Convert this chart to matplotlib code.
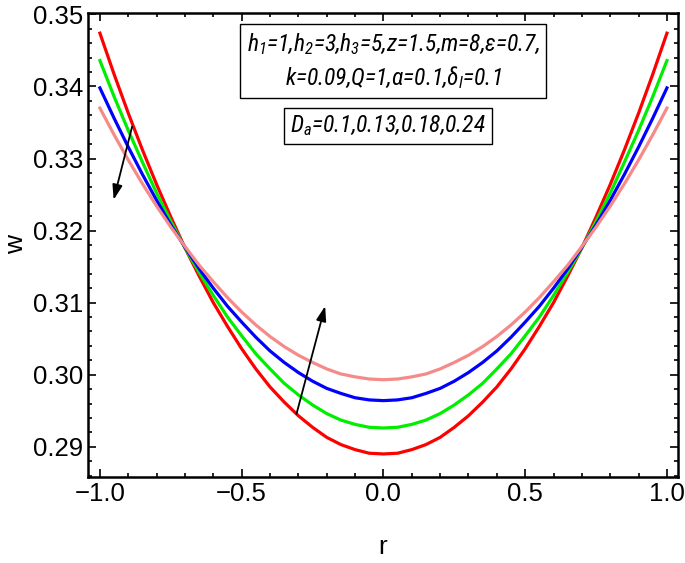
import matplotlib.pyplot as plt
from matplotlib.ticker import MultipleLocator

# velocity profiles w(r) for Da = 0.1, 0.13, 0.18, 0.24, read on r = 0 .. 1 (step 0.05);
# the profiles are symmetric about r = 0
r_half = [0.0, 0.05, 0.1, 0.15, 0.2, 0.25, 0.3, 0.35, 0.4, 0.45, 0.5,
          0.55, 0.6, 0.65, 0.7, 0.75, 0.8, 0.85, 0.9, 0.95, 1.0]
w_red_half = [0.2890, 0.2891, 0.2896, 0.2903, 0.2913, 0.2927, 0.2943, 0.2962, 0.2983, 0.3008, 0.3036,
              0.3067, 0.3100, 0.3137, 0.3176, 0.3219, 0.3264, 0.3312, 0.3363, 0.3417, 0.3474]
w_green_half = [0.2926, 0.2927, 0.2931, 0.2937, 0.2946, 0.2958, 0.2972, 0.2988, 0.3008, 0.3029, 0.3054,
                0.3080, 0.3110, 0.3142, 0.3176, 0.3213, 0.3252, 0.3295, 0.3339, 0.3386, 0.3436]
w_blue_half = [0.2964, 0.2965, 0.2968, 0.2974, 0.2981, 0.2991, 0.3003, 0.3017, 0.3033, 0.3052, 0.3073,
               0.3095, 0.3120, 0.3147, 0.3177, 0.3208, 0.3242, 0.3278, 0.3316, 0.3356, 0.3398]
w_pink_half = [0.2993, 0.2994, 0.2997, 0.3001, 0.3008, 0.3017, 0.3027, 0.3039, 0.3053, 0.3069, 0.3087,
               0.3107, 0.3129, 0.3152, 0.3178, 0.3205, 0.3234, 0.3265, 0.3298, 0.3333, 0.3370]


def mirror(vals):
    return vals[:0:-1] + vals


r = [-v for v in r_half[:0:-1]] + r_half

plt.rcParams['font.family'] = ['Liberation Sans', 'DejaVu Sans']
plt.rcParams['mathtext.fontset'] = 'custom'
plt.rcParams['mathtext.it'] = 'Roboto Condensed:italic'
plt.rcParams['mathtext.rm'] = 'Roboto Condensed:italic'

fig = plt.figure(figsize=(6.85, 5.63), dpi=100)
ax = fig.add_axes([88 / 685, 1 - 477 / 563, 590 / 685, 464 / 563])

ax.plot(r, mirror(w_red_half), color='#ff0000', lw=2.3)
ax.plot(r, mirror(w_green_half), color='#00ee00', lw=2.3)
ax.plot(r, mirror(w_blue_half), color='#0000ff', lw=2.3)
ax.plot(r, mirror(w_pink_half), color='#f58a8a', lw=2.3)

ax.set_xlim(-1.042, 1.039)
ax.set_ylim(0.2858, 0.3502)
ax.xaxis.set_major_locator(MultipleLocator(0.5))
ax.xaxis.set_minor_locator(MultipleLocator(0.1))
ax.yaxis.set_major_locator(MultipleLocator(0.01))
ax.yaxis.set_minor_locator(MultipleLocator(0.002))
ax.xaxis.set_major_formatter(lambda v, p: f"{v:.1f}".replace('-', '\u2212'))
ax.yaxis.set_major_formatter(lambda v, p: f"{v:.2f}")
ax.tick_params(which='both', direction='in', top=True, right=True, labelsize=18.5, width=1.2)
ax.tick_params(which='major', length=6)
ax.tick_params(which='minor', length=3)
for s in ax.spines.values():
    s.set_linewidth(1.8)

ax.set_xlabel('r', fontsize=19, labelpad=21)
ax.set_ylabel('w', fontsize=19, va='center')
ax.yaxis.set_label_coords(-0.122, 0.5)

# arrows showing increase of Da
arr = dict(arrowstyle='-|>,head_length=0.9,head_width=0.3', color='black', lw=1.3)
ax.annotate('', xy=(-0.954, 0.3239), xytext=(-0.884, 0.3348), arrowprops=arr)
ax.annotate('', xy=(-0.203, 0.3099), xytext=(-0.309, 0.2942), arrowprops=arr)

tf = dict(family=['Roboto Condensed', 'Liberation Sans', 'DejaVu Sans'], style='italic', fontsize=17)
fig.text(393 / 685, 1 - 61 / 563,
         '$h_1$=1,$h_2$=3,$h_3$=5,z=1.5,m=8,$\\epsilon$=0.7,\nk=0.09,Q=1,$\\alpha$=0.1,$\\delta_l$=0.1',
         ha='center', va='center', linespacing=1.35, **tf,
         bbox=dict(boxstyle='square,pad=0.3', fc='white', ec='black', lw=1))
fig.text(388 / 685, 1 - 126 / 563, '$D_a$=0.1,0.13,0.18,0.24',
         ha='center', va='center', **tf,
         bbox=dict(boxstyle='square,pad=0.25', fc='white', ec='black', lw=1))

fig.savefig('out.png', dpi=100)
